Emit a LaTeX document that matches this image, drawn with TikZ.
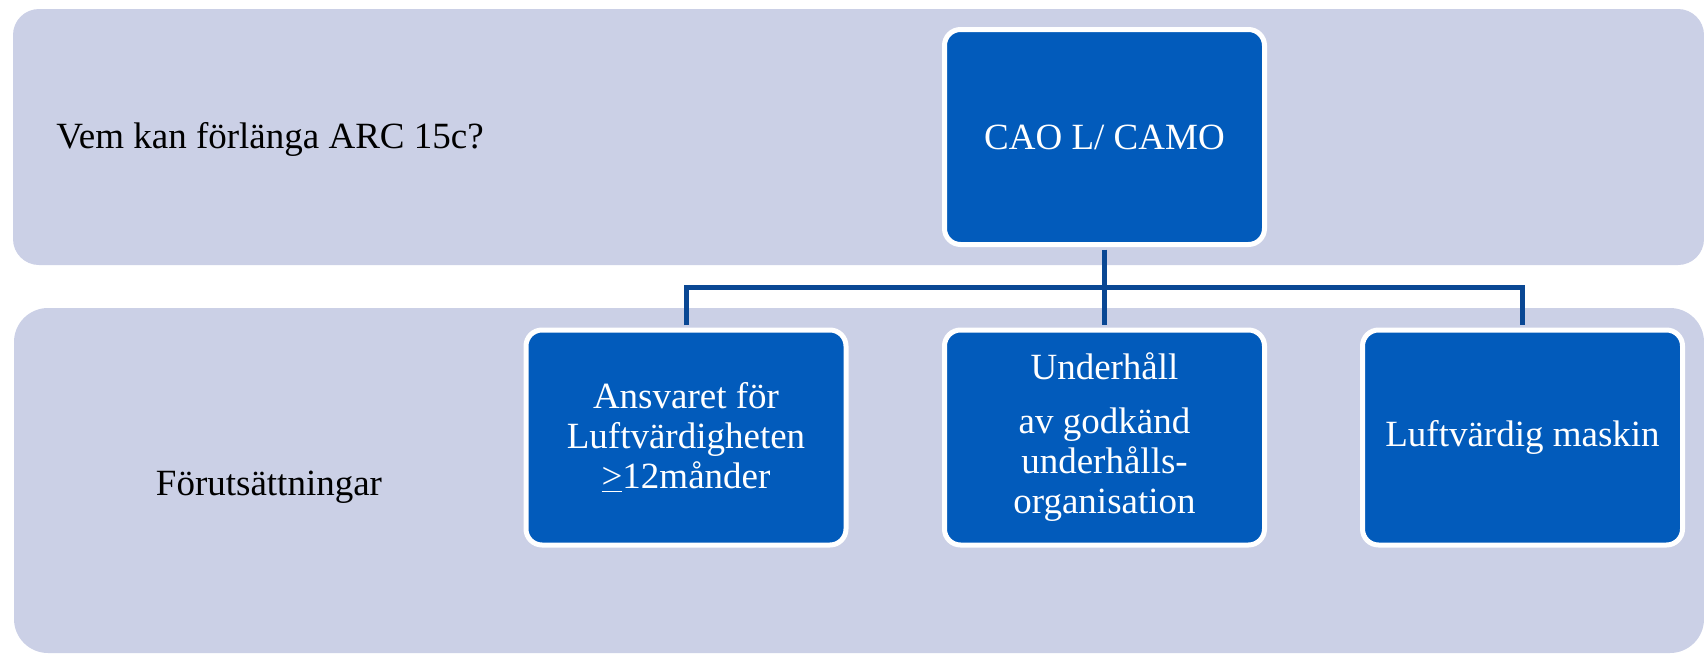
\documentclass[tikz,border=0pt]{standalone}
\usepackage{fontspec}
\setmainfont{Liberation Serif}
\usetikzlibrary{%
  calc,%
  positioning%
}
\definecolor{bandgray}{RGB}{203,208,230}
\definecolor{boxblue}{RGB}{2,91,187}
\definecolor{linkblue}{RGB}{10,72,148}
\tikzset{%
  band/.style={fill=bandgray,rounded corners=13pt},
  orgbox/.style={draw=white,line width=2.5pt,fill=boxblue,rounded corners=8pt,
    minimum width=160pt,minimum height=107.5pt,inner sep=2pt,
    text=white,align=center,font=\fontsize{18.5}{20}\selectfont},
  lbl/.style={anchor=base,font=\fontsize{18.5}{20}\selectfont},
  link/.style={draw=linkblue,line width=2.5pt,shorten <=1.25pt,shorten >=1.25pt}}

\begin{document}
\begin{tikzpicture}[x=0.5pt,y=-0.5pt]
    \useasboundingbox (0,0) rectangle (1704,654);
    % the two bands
    \fill[band] (13,9) rectangle (1704,265);
    \fill[band,rounded corners=17pt] (14,308) rectangle (1704,653);
    \node[lbl] (fraga) at (270,148) {Vem kan förlänga ARC 15c?};
    \node[lbl] (forut) at (269,495) {Förutsättningar};
    % boxes
    \node[orgbox] (cao) at (1104.5,137) {CAO L/ CAMO};
    \node[orgbox] (ansvar) at (686,437.5)
    {Ansvaret för\\Luftvärdigheten\\\underline{>}12månder};
    \node[orgbox] (underhall) at (1104.5,437.5)
    {Underhåll\\[7pt]av godkänd\\underhålls-\\organisation};
    \node[orgbox] (maskin) at (1522.5,437.5) {Luftvärdig maskin};
    % connectors
    \draw[link] (cao.south) -- (underhall.north);
    \draw[link] (ansvar.north) |- ($(cao.south)!.5!(underhall.north)$)
    -| (maskin.north);
\end{tikzpicture}
\end{document}
